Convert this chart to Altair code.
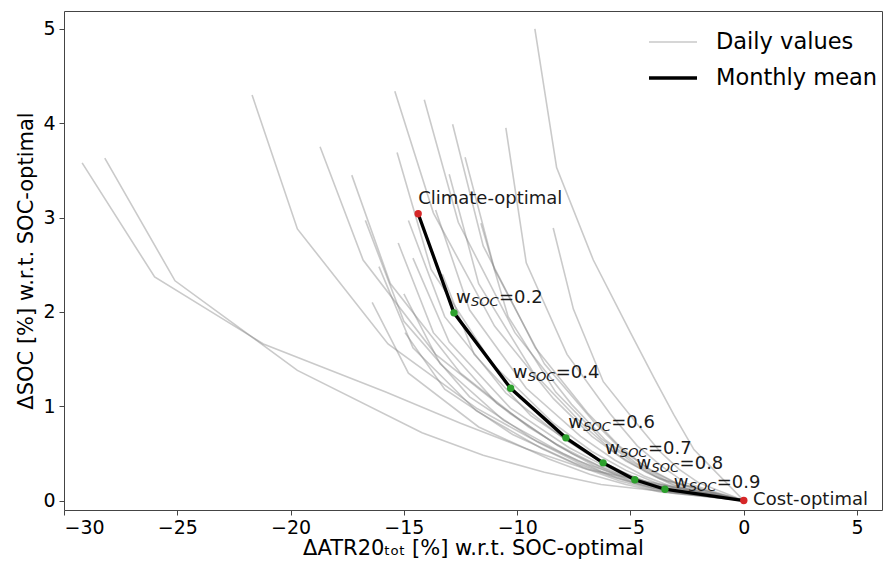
import altair as alt
import pandas as pd

FONT = "DejaVu Sans"

# ---------------- data ----------------
series_names = ["Daily values", "Monthly mean"]

daily_x = [
    [-29.2, -26.0, -21.2, -15.8, -12.5, -9.6, -6.9, 0.0],
    [-28.2, -25.1, -19.7, -14.2, -11.5, -8.8, -6.3, 0.0],
    [-21.7, -19.7, -15.7, -11.8, -9.4, -7.3, -5.2, 0.0],
    [-18.7, -16.8, -13.6, -10.3, -8.3, -6.4, -4.6, 0.0],
    [-17.3, -15.6, -12.5, -9.5, -7.6, -5.9, -4.2, 0.0],
    [-16.7, -15.0, -12.1, -9.1, -7.3, -5.6, -4.0, 0.0],
    [-16.1, -14.6, -11.8, -8.9, -7.1, -5.5, -3.9, 0.0],
    [-15.4, -13.7, -11.0, -8.4, -6.7, -5.2, -3.7, 0.0],
    [-15.3, -13.8, -11.1, -8.4, -6.7, -5.2, -3.7, 0.0],
    [-15.25, -13.7, -10.9, -8.2, -6.6, -5.1, -3.6, 0.0],
    [-15.0, -13.4, -10.6, -7.9, -6.3, -4.8, -3.4, 0.0],
    [-14.95, -13.2, -10.2, -7.5, -5.9, -4.5, -3.2, 0.0],
    [-14.8, -13.2, -10.5, -7.9, -6.3, -4.9, -3.5, 0.0],
    [-14.6, -13.0, -10.3, -7.7, -6.1, -4.7, -3.4, 0.0],
    [-14.1, -12.6, -10.1, -7.6, -6.1, -4.7, -3.4, 0.0],
    [-13.6, -12.1, -9.6, -7.2, -5.7, -4.4, -3.1, 0.0],
    [-13.0, -11.7, -9.3, -7.0, -5.6, -4.3, -3.1, 0.0],
    [-12.85, -11.5, -9.2, -6.9, -5.5, -4.3, -3.0, 0.0],
    [-12.3, -11.0, -8.8, -6.6, -5.3, -4.1, -2.9, 0.0],
    [-10.5, -9.6, -7.8, -5.9, -4.7, -3.6, -2.6, 0.0],
    [-9.22, -8.26, -6.64, -5.0, -3.96, -3.09, -2.2, 0.0],
    [-8.41, -7.52, -6.2, -4.6, -3.7, -2.85, -2.0, 0.0],
    [-11.6, -10.4, -8.3, -6.3, -5.0, -3.9, -2.8, 0.0],
    [-13.3, -11.9, -9.4, -7.0, -5.6, -4.3, -3.1, 0.0],
    [-16.4, -14.8, -11.7, -8.6, -6.8, -5.2, -3.7, 0.0],
]
daily_y = [
    [3.58, 2.37, 1.66, 1.15, 0.82, 0.55, 0.33, 0.0],
    [3.63, 2.33, 1.38, 0.72, 0.48, 0.30, 0.17, 0.0],
    [4.30, 2.88, 1.66, 0.98, 0.66, 0.42, 0.24, 0.0],
    [3.75, 2.55, 1.55, 0.92, 0.60, 0.37, 0.20, 0.0],
    [3.45, 2.30, 1.35, 0.78, 0.50, 0.31, 0.17, 0.0],
    [2.97, 1.90, 1.10, 0.62, 0.40, 0.24, 0.13, 0.0],
    [2.48, 1.62, 0.95, 0.55, 0.35, 0.21, 0.11, 0.0],
    [4.34, 3.05, 1.85, 1.08, 0.68, 0.42, 0.23, 0.0],
    [3.69, 2.45, 1.45, 0.82, 0.52, 0.32, 0.17, 0.0],
    [2.73, 1.78, 1.03, 0.58, 0.37, 0.22, 0.12, 0.0],
    [2.19, 1.45, 0.85, 0.49, 0.31, 0.19, 0.10, 0.0],
    [1.78, 1.18, 0.70, 0.40, 0.26, 0.16, 0.08, 0.0],
    [2.97, 1.95, 1.14, 0.65, 0.42, 0.25, 0.13, 0.0],
    [2.57, 1.68, 0.98, 0.56, 0.36, 0.22, 0.11, 0.0],
    [4.25, 2.95, 1.78, 1.02, 0.64, 0.39, 0.21, 0.0],
    [3.08, 2.02, 1.19, 0.68, 0.43, 0.26, 0.14, 0.0],
    [3.46, 2.30, 1.36, 0.78, 0.49, 0.30, 0.16, 0.0],
    [3.99, 2.70, 1.62, 0.93, 0.58, 0.35, 0.19, 0.0],
    [3.64, 2.45, 1.45, 0.83, 0.52, 0.32, 0.17, 0.0],
    [3.95, 2.52, 1.55, 0.92, 0.58, 0.36, 0.19, 0.0],
    [5.00, 3.53, 2.55, 1.78, 1.30, 0.91, 0.54, 0.0],
    [2.89, 2.03, 1.26, 0.78, 0.52, 0.33, 0.19, 0.0],
    [2.94, 1.95, 1.15, 0.66, 0.42, 0.26, 0.14, 0.0],
    [2.40, 1.55, 0.90, 0.51, 0.33, 0.20, 0.10, 0.0],
    [2.10, 1.35, 0.78, 0.44, 0.28, 0.17, 0.09, 0.0],
]

mean_x = [-14.37, -12.79, -10.29, -7.85, -6.21, -4.81, -3.48, 0.0]
mean_y = [3.04, 1.99, 1.19, 0.665, 0.40, 0.22, 0.12, 0.0]

w_values = ["0.2", "0.4", "0.6", "0.7", "0.8", "0.9"]
w_label_x = [-12.70, -10.20, -7.75, -6.13, -4.73, -3.09]
w_label_y = [2.095, 1.30, 0.77, 0.49, 0.33, 0.13]

end_labels = ["Climate-optimal", "Cost-optimal"]
end_label_x = [-14.37, 0.41]
end_label_y = [3.14, -0.045]

x_ticks = [-30, -25, -20, -15, -10, -5, 0, 5]
y_ticks = [0, 1, 2, 3, 4, 5]

# ---------------- tables ----------------
rows = []
for d, (xs, ys) in enumerate(zip(daily_x, daily_y)):
    for i, (xv, yv) in enumerate(zip(xs, ys)):
        rows.append({"day": d, "step": i, "x": xv, "y": yv, "series": series_names[0]})
df_daily = pd.DataFrame(rows)

df_mean = pd.DataFrame({"step": list(range(len(mean_x))), "x": mean_x, "y": mean_y,
                        "series": series_names[1]})
df_end_pts = df_mean.iloc[[0, len(mean_x) - 1]]
df_w_pts = df_mean.iloc[1:len(mean_x) - 1]

df_w_lab = pd.DataFrame({"x": w_label_x, "y": w_label_y,
                         "w": ["w"] * len(w_values), "sub": ["SOC"] * len(w_values),
                         "rest": ["=" + v for v in w_values]})
df_end_lab = pd.DataFrame({"x": end_label_x, "y": end_label_y, "label": end_labels})

# ---------------- encodings ----------------
xenc = alt.X("x:Q", scale=alt.Scale(domain=[-30, 6.1], nice=False, zero=False),
             axis=alt.Axis(values=x_ticks, title="ΔATR20ₜₒₜ [%] w.r.t. SOC-optimal",
                           format="d", titlePadding=0, labelPadding=3))
yenc = alt.Y("y:Q", scale=alt.Scale(domain=[-0.1, 5.19], nice=False, zero=False),
             axis=alt.Axis(values=y_ticks, title="ΔSOC [%] w.r.t. SOC-optimal", format="d",
                           titlePadding=6, labelPadding=4))

leg = alt.Legend(title=None, orient="none", legendX=595, legendY=18,
                 symbolType="M-2,0H2", symbolSize=576, labelFontSize=22.5,
                 labelFont=FONT, labelColor="black", rowPadding=10, labelOffset=29,
                 labelLimit=400, padding=0, symbolStrokeWidth=2.5)
col = alt.Color("series:N", scale=alt.Scale(domain=series_names, range=["#808080", "black"]),
                legend=leg)
sw = alt.StrokeWidth("series:N", scale=alt.Scale(domain=series_names, range=[1.6, 3.3]),
                     legend=leg)
op = alt.Opacity("series:N", scale=alt.Scale(domain=series_names, range=[0.42, 1.0]),
                 legend=leg)

daily = alt.Chart(df_daily).mark_line().encode(
    x=xenc, y=yenc, detail="day:N", order="step:Q", color=col, strokeWidth=sw, opacity=op)
mean = alt.Chart(df_mean).mark_line().encode(
    x=xenc, y=yenc, order="step:Q", color=col, strokeWidth=sw, opacity=op)
end_pts = alt.Chart(df_end_pts).mark_circle(size=55, opacity=1, color="#d62728").encode(x=xenc, y=yenc)
w_pts = alt.Chart(df_w_pts).mark_circle(size=55, opacity=1, color="#2ca02c").encode(x=xenc, y=yenc)

txt = dict(align="left", baseline="alphabetic", font=FONT, color="#1a1a1a")
t_w = alt.Chart(df_w_lab).mark_text(fontSize=18, **txt).encode(x=xenc, y=yenc, text="w:N")
t_sub = alt.Chart(df_w_lab).mark_text(fontSize=13, fontStyle="italic", dx=15, dy=3, **txt).encode(
    x=xenc, y=yenc, text="sub:N")
t_rest = alt.Chart(df_w_lab).mark_text(fontSize=18, dx=43, **txt).encode(x=xenc, y=yenc, text="rest:N")
t_end = alt.Chart(df_end_lab).mark_text(fontSize=18, **txt).encode(x=xenc, y=yenc, text="label:N")

chart = alt.layer(daily, mean, end_pts, w_pts, t_w, t_sub, t_rest, t_end).properties(
    width=818, height=499, autosize="none",
    padding={"left": 56, "top": 3, "right": 1, "bottom": 53},
).configure_view(stroke="#444", strokeWidth=1).configure_axis(
    grid=False, domain=False, tickColor="#444", tickSize=5, labelFontSize=19,
    labelFont=FONT, labelColor="black", titleFont=FONT, titleFontSize=21,
    titleFontWeight="normal", titleColor="black",
)

chart.save("out.html", embed_options={"renderer": "svg", "actions": False})
